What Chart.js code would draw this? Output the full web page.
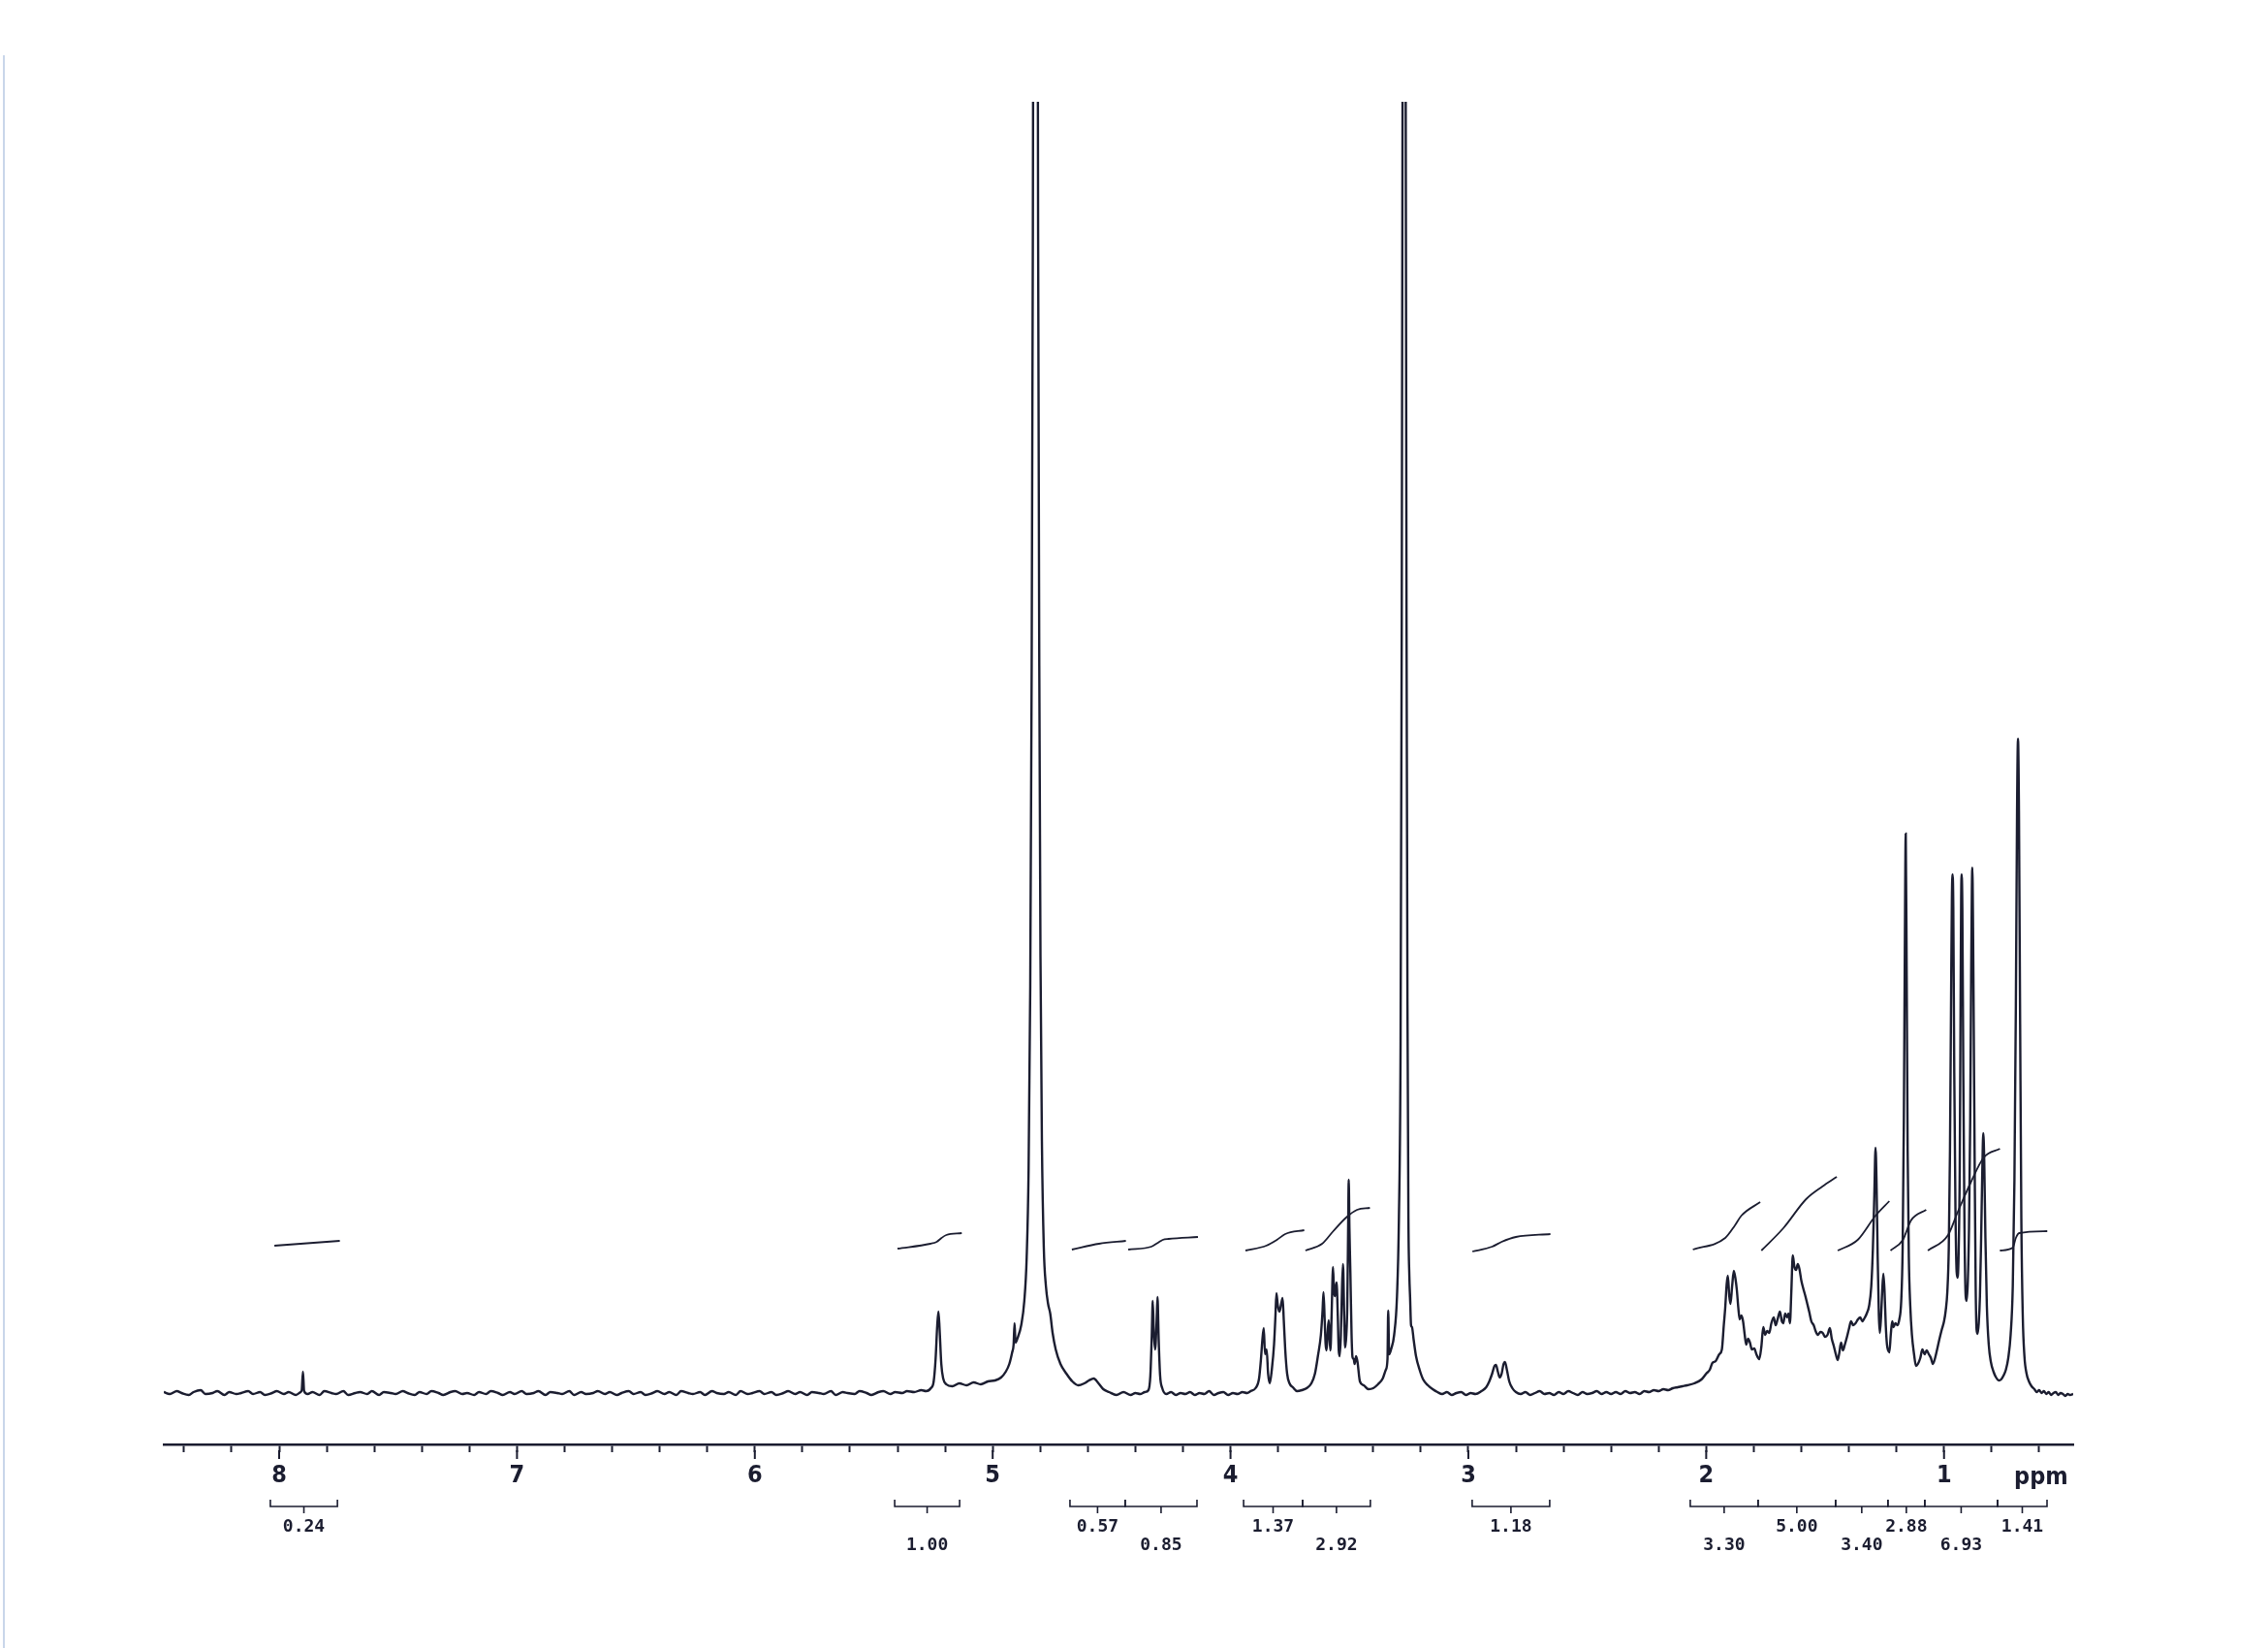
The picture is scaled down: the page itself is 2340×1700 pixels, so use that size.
<!DOCTYPE html>
<html lang="en">
<head>
<meta charset="utf-8">
<title>1H NMR spectrum</title>
<script src="https://cdn.jsdelivr.net/npm/chart.js@4.4.1/dist/chart.umd.min.js"></script>
<style>
    html, body { margin: 0; padding: 0; background: #ffffff; }
    .chart-wrap { position: relative; width: 2340px; height: 1700px; }
</style>
</head>
<body>
<div class="chart-wrap"><canvas id="nmrChart" width="2340" height="1700"></canvas></div>
<script>
'use strict';

// =========================================================
// 1H NMR SPECTRUM
// Values. x = ppm, y = signal
// (plot units above baseline). Tall lines run off the top.
// =========================================================

const INK = '#1b1d30';

// =========================================================
// AXIS
// =========================================================

const AXIS_MAX_PPM = 8.485;
const AXIS_MIN_PPM = 0.457;

const majorTickValues = [8, 7, 6, 5, 4, 3, 2, 1];
const tickLabels = ['8', '7', '6', '5', '4', '3', '2', '1'];
const minorTickStep = 0.2;

const axisUnit = 'ppm';
const axisUnitPpm = 0.592;


// =========================================================
// SPECTRUM TRACE  [ppm, signal]
// =========================================================

const lowFieldTrace = [
    [8.485, 1], [8.46, -1], [8.43, 2], [8.41, 0], [8.38, -2], [8.36, 1], [8.33, 3], [8.31, -1],
    [8.28, 0], [8.26, 2], [8.23, -2], [8.21, 1], [8.18, -1], [8.16, 0], [8.13, 2], [8.11, -1],
    [8.08, 1], [8.06, -2], [8.03, 0], [8.01, 2], [7.98, -1], [7.96, 1], [7.93, -2], [7.91, 1],
    [7.905, 3], [7.900, 22], [7.895, 2], [7.88, -1], [7.86, 1], [7.83, -2], [7.81, 2], [7.78, 0],
    [7.76, -1], [7.73, 2], [7.71, -2], [7.68, 0], [7.66, 1], [7.63, -1], [7.61, 2], [7.58, -2],
    [7.56, 1], [7.53, 0], [7.51, -1], [7.48, 2], [7.46, 0], [7.43, -2], [7.41, 1], [7.38, -1],
    [7.36, 2], [7.33, 0], [7.31, -2], [7.28, 1], [7.26, 2], [7.23, -1], [7.21, 0], [7.18, -2],
    [7.16, 1], [7.13, -1], [7.11, 2], [7.08, 0], [7.06, -2], [7.03, 1], [7.01, -1], [6.98, 2],
    [6.96, -1], [6.93, 0], [6.91, 2], [6.88, -2], [6.86, 1], [6.83, 0], [6.81, -1], [6.78, 2],
    [6.76, -2], [6.73, 1], [6.71, -1], [6.68, 0], [6.66, 2], [6.63, -1], [6.61, 1], [6.58, -2],
    [6.56, 0], [6.53, 2], [6.51, -1], [6.48, 1], [6.46, -2], [6.43, 0], [6.41, 2], [6.38, -1],
    [6.36, 1], [6.33, -2], [6.31, 2], [6.28, 0], [6.26, -1], [6.23, 1], [6.21, -2], [6.18, 2],
    [6.16, 0], [6.13, -1], [6.11, 1], [6.08, -2], [6.06, 2], [6.03, -1], [6.01, 0], [5.98, 2],
    [5.96, -1], [5.93, 1], [5.91, -2], [5.88, 0], [5.86, 2], [5.83, -1], [5.81, 1], [5.78, -2],
    [5.76, 1], [5.73, 0], [5.71, -1], [5.68, 2], [5.66, -2], [5.63, 1], [5.61, 0], [5.58, -1],
    [5.56, 2], [5.53, 0], [5.51, -2], [5.48, 1], [5.46, 2], [5.43, -1], [5.41, 1], [5.38, 0],
    [5.36, 2], [5.33, 1], [5.30, 3],
];

// 5.22 singlet and the big water line at 4.82
const waterRegionTrace = [
    [5.28, 2], [5.26, 5], [5.248, 12], [5.240, 35], [5.233, 70], [5.228, 84], [5.223, 65],
    [5.216, 30], [5.208, 15], [5.195, 9], [5.17, 7], [5.14, 10], [5.11, 8], [5.08, 11],
    [5.05, 9], [5.02, 12], [4.99, 13], [4.965, 16], [4.945, 22], [4.93, 30], [4.918, 42],
    [4.912, 50], [4.908, 72], [4.904, 52], [4.895, 57], [4.88, 70], [4.867, 95], [4.857, 140],
    [4.849, 230], [4.842, 420], [4.836, 750], [4.831, 1200], [4.826, 2000], [4.820, 3000],
    [4.814, 2000], [4.809, 1200], [4.804, 750], [4.799, 450], [4.793, 260], [4.785, 150],
    [4.776, 110], [4.767, 92], [4.758, 82], [4.748, 62], [4.735, 45], [4.715, 30], [4.69, 20],
    [4.665, 12], [4.64, 8], [4.615, 10], [4.595, 13], [4.575, 15], [4.555, 10], [4.535, 4],
    [4.51, 1], [4.48, -2], [4.45, 1],
];

// 4.3 doublet, 3.8 and 3.5 multiplets, solvent at 3.27, 2.87
const midFieldTrace = [
    [4.42, -2], [4.40, 0], [4.38, -1], [4.36, 1], [4.345, 3], [4.337, 18], [4.331, 60],
    [4.327, 95], [4.322, 60], [4.317, 45], [4.311, 72], [4.307, 99], [4.302, 55], [4.296, 18],
    [4.287, 5], [4.27, -1], [4.25, 1], [4.23, -2], [4.21, 0], [4.19, -1], [4.17, 1], [4.15, -2],
    [4.13, 0], [4.11, -1], [4.09, 2], [4.07, -2], [4.05, 0], [4.03, 1], [4.01, -2], [3.99, 0],
    [3.97, -1], [3.95, 1], [3.93, 0], [3.915, 2], [3.895, 5], [3.880, 15],
    [3.872, 35], [3.866, 55], [3.860, 67], [3.855, 40], [3.848, 45], [3.842, 20], [3.835, 10],
    [3.826, 25], [3.817, 50], [3.811, 80], [3.807, 103], [3.801, 90], [3.794, 84], [3.787, 92],
    [3.781, 98], [3.776, 75], [3.770, 45], [3.762, 20], [3.752, 10], [3.738, 6], [3.72, 2],
    [3.70, 3], [3.68, 5], [3.66, 10], [3.645, 20], [3.632, 39], [3.620, 60], [3.613, 85],
    [3.609, 104], [3.604, 75], [3.600, 50], [3.596, 44], [3.591, 65], [3.587, 75], [3.583, 55],
    [3.580, 44], [3.575, 80], [3.569, 130], [3.565, 105], [3.561, 100], [3.557, 110],
    [3.554, 114], [3.549, 80], [3.545, 44], [3.541, 38], [3.536, 60], [3.531, 110], [3.527, 133],
    [3.522, 80], [3.518, 47], [3.513, 60], [3.509, 90], [3.505, 180], [3.503, 220], [3.500, 170],
    [3.496, 124], [3.491, 60], [3.487, 37], [3.482, 35], [3.478, 30], [3.472, 38], [3.466, 32],
    [3.456, 12], [3.44, 8], [3.42, 4], [3.40, 5], [3.38, 9], [3.36, 15], [3.347, 24],
    [3.340, 35], [3.337, 85], [3.333, 40], [3.325, 45], [3.312, 60], [3.300, 100], [3.292, 180],
    [3.285, 360], [3.280, 800], [3.275, 1600], [3.270, 3000], [3.265, 1600], [3.260, 800],
    [3.256, 400], [3.252, 180], [3.248, 120], [3.245, 99], [3.241, 70], [3.237, 68], [3.230, 55],
    [3.22, 38], [3.205, 24], [3.19, 14], [3.17, 8], [3.15, 4], [3.13, 1], [3.11, -1], [3.09, 1],
    [3.07, -2], [3.05, 0], [3.03, 1], [3.01, -2], [2.99, 0], [2.97, -1], [2.945, 2], [2.925, 6],
    [2.912, 12], [2.900, 20], [2.890, 28], [2.884, 29], [2.876, 22], [2.868, 16], [2.860, 20],
    [2.852, 30], [2.846, 32], [2.838, 24], [2.828, 12], [2.815, 5], [2.80, 1], [2.78, -1],
    [2.76, 1], [2.74, -2], [2.72, 0], [2.70, 2], [2.68, -1], [2.66, 0], [2.64, -2], [2.62, 1],
    [2.60, -1], [2.58, 2], [2.56, 0], [2.54, -2], [2.52, 1], [2.50, -1], [2.48, 0], [2.46, 2],
    [2.44, -1], [2.42, 1],
];

// 2.4 - 0.46 ppm: methylene humps and the methyl lines
const aliphaticTrace = [
    [2.40, -1], [2.38, 1], [2.36, -1], [2.34, 2], [2.32, 0], [2.30, 1], [2.28, -1], [2.26, 2],
    [2.24, 1], [2.22, 3], [2.20, 2], [2.18, 4], [2.16, 3], [2.14, 5], [2.12, 6], [2.10, 7],
    [2.08, 8], [2.05, 10], [2.02, 14], [2.00, 20], [1.985, 24],
    [1.974, 31], [1.96, 33], [1.945, 40], [1.934, 45], [1.926, 70], [1.920, 88], [1.914, 112],
    [1.909, 121], [1.903, 100], [1.898, 92], [1.891, 110], [1.884, 126], [1.877, 118],
    [1.871, 106], [1.865, 88], [1.859, 76], [1.852, 80], [1.845, 74], [1.838, 60], [1.832, 50],
    [1.824, 56], [1.816, 52], [1.808, 45], [1.798, 46], [1.789, 40], [1.777, 35], [1.768, 48],
    [1.760, 68], [1.752, 60], [1.744, 64], [1.735, 62], [1.726, 72], [1.716, 78], [1.708, 70],
    [1.700, 76], [1.690, 84], [1.682, 74], [1.676, 72], [1.668, 82], [1.660, 78], [1.654, 82],
    [1.648, 72], [1.642, 105], [1.636, 142], [1.629, 130], [1.622, 127], [1.615, 133],
    [1.608, 128], [1.600, 116], [1.592, 108], [1.583, 100], [1.575, 92], [1.567, 84],
    [1.558, 74], [1.548, 70], [1.540, 64], [1.530, 60], [1.520, 63], [1.510, 62], [1.500, 58],
    [1.490, 60], [1.480, 67], [1.472, 56], [1.463, 48], [1.455, 40], [1.447, 34], [1.440, 42],
    [1.433, 52], [1.425, 44], [1.417, 50], [1.408, 58], [1.400, 66], [1.391, 74], [1.382, 70],
    [1.372, 72], [1.362, 76], [1.352, 78], [1.344, 74], [1.335, 77], [1.325, 82], [1.315, 90],
    [1.306, 110], [1.299, 150], [1.293, 205], [1.288, 253], [1.284, 220], [1.279, 140],
    [1.274, 80], [1.270, 62], [1.265, 78], [1.260, 105], [1.255, 123], [1.250, 104],
    [1.245, 70], [1.240, 50], [1.235, 44], [1.230, 42], [1.224, 60], [1.218, 74], [1.212, 68],
    [1.205, 72], [1.196, 70], [1.188, 76], [1.180, 95], [1.174, 150], [1.169, 280], [1.165, 450],
    [1.161, 577], [1.157, 430], [1.153, 250], [1.148, 140], [1.142, 90], [1.135, 60],
    [1.126, 40], [1.118, 28], [1.110, 30], [1.100, 36], [1.091, 45], [1.082, 40], [1.073, 44],
    [1.064, 40], [1.055, 36], [1.047, 30], [1.040, 34], [1.030, 44], [1.020, 55], [1.010, 65],
    [1.000, 74], [0.993, 85], [0.986, 105], [0.980, 150], [0.975, 250], [0.970, 420],
    [0.967, 510], [0.964, 535], [0.961, 500], [0.957, 330], [0.952, 190], [0.947, 125],
    [0.943, 119], [0.939, 140], [0.934, 230], [0.930, 420], [0.928, 510], [0.926, 535],
    [0.923, 500], [0.919, 330], [0.914, 170], [0.909, 100], [0.905, 95], [0.900, 115],
    [0.895, 170], [0.890, 280], [0.886, 430], [0.883, 520], [0.881, 542], [0.878, 480],
    [0.875, 375], [0.871, 230], [0.867, 110], [0.863, 65], [0.859, 61], [0.854, 72],
    [0.849, 100], [0.844, 160], [0.839, 230], [0.835, 268], [0.831, 240], [0.826, 160],
    [0.820, 90], [0.812, 50], [0.803, 32], [0.792, 22], [0.781, 16], [0.770, 13], [0.760, 14],
    [0.750, 18], [0.740, 24], [0.730, 36], [0.720, 60], [0.711, 110], [0.704, 220],
    [0.698, 400], [0.693, 600], [0.689, 675], [0.685, 600], [0.680, 380], [0.675, 180],
    [0.669, 80], [0.662, 38], [0.653, 20], [0.643, 12], [0.632, 7], [0.620, 4], [0.610, 1],
    [0.60, 3], [0.59, 0], [0.58, 2], [0.57, -1], [0.56, 1], [0.55, -2], [0.54, 0], [0.53, 1],
    [0.52, -2], [0.51, 0], [0.50, -1], [0.49, -3], [0.48, -1], [0.47, -2], [0.457, -1],
];


// =========================================================
// INTEGRAL CURVES  [ppm, level]
// =========================================================

const integralCurves = [
    [[8.02, 152], [7.745, 157]],
    [[5.40, 149], [5.262, 154], [5.235, 156], [5.215, 160], [5.195, 163], [5.13, 165]],
    [[4.667, 148], [4.553, 154], [4.44, 157]],
    [[4.43, 148], [4.333, 151], [4.305, 155], [4.285, 158], [4.26, 159], [4.137, 161]],
    [[3.937, 147], [3.85, 152], [3.805, 158], [3.77, 164], [3.69, 168]],
    [[3.685, 147], [3.615, 154], [3.568, 167], [3.514, 181], [3.468, 189], [3.414, 191]],
    [[2.983, 146], [2.90, 151], [2.86, 156], [2.80, 161], [2.655, 164]],
    [[2.056, 148], [1.920, 160], [1.879, 173], [1.852, 183], [1.773, 197]],
    [[1.768, 147], [1.676, 170], [1.580, 200], [1.512, 213], [1.451, 223]],
    [[1.447, 147], [1.363, 158], [1.288, 183], [1.230, 198]],
    [[1.225, 147], [1.173, 158], [1.139, 178], [1.075, 189]],
    [[1.068, 147], [0.983, 163], [0.942, 187], [0.888, 217], [0.833, 243], [0.765, 252]],
    [[0.765, 147], [0.711, 150], [0.698, 160], [0.684, 165], [0.566, 167]],
];

// integration brackets under the axis
const integralRanges = [
    [8.037, 7.755],
    [5.412, 5.139],
    [4.675, 4.443], [4.443, 4.141],
    [3.945, 3.697], [3.697, 3.412],
    [2.984, 2.658],
    [2.067, 1.782], [1.782, 1.456], [1.456, 1.236], [1.236, 1.081], [1.081, 0.775], [0.775, 0.567],
];
const integralValues = [
    '0.24', '1.00', '0.57', '0.85', '1.37', '2.92', '1.18',
    '3.30', '5.00', '3.40', '2.88', '6.93', '1.41',
];
// 0 = upper row, 1 = lower row
const integralRows = [0, 1, 0, 1, 0, 1, 0, 1, 0, 1, 0, 1, 0];


// =========================================================
// HELPERS
// =========================================================

const toPoints = (pairs) => pairs.map(([ppm, value]) => ({ x: ppm, y: value }));

const buildAxisTicks = () => {
    const values = [];
    const first = Math.ceil(AXIS_MIN_PPM / minorTickStep);
    const last = Math.floor(AXIS_MAX_PPM / minorTickStep);

    for (let step = first; step <= last; step++) {
        values.push(Number((step * minorTickStep).toFixed(1)));
    }

    return values;
};

const axisTickValues = buildAxisTicks();

const labelForTick = (value) => {
    const index = majorTickValues.findIndex((major) => Math.abs(major - value) < 1e-6);
    return index >= 0 ? tickLabels[index] : '';
};


// =========================================================
// PLUGIN: long major ticks, unit, integration brackets
// =========================================================

const nmrExtras = {
    id: 'nmrExtras',

    beforeDraw(chart) {
        // faint scanner edge on the left of the sheet
        const { ctx } = chart;
        ctx.save();
        ctx.strokeStyle = '#c9d6ea';
        ctx.lineWidth = 2;
        ctx.beginPath();
        ctx.moveTo(4, 57);
        ctx.lineTo(4, 1700);
        ctx.stroke();
        ctx.restore();
    },

    afterDraw(chart) {
        const { ctx } = chart;
        const xScale = chart.scales.x;
        const axisY = xScale.top;

        ctx.save();
        ctx.strokeStyle = INK;
        ctx.fillStyle = INK;
        ctx.lineWidth = 2;

        // major ticks are longer than the minor ones
        majorTickValues.forEach((value) => {
            const px = xScale.getPixelForValue(value);
            ctx.beginPath();
            ctx.moveTo(px, axisY + 6);
            ctx.lineTo(px, axisY + 15);
            ctx.stroke();
        });

        ctx.font = "bold 25px 'DejaVu Sans Condensed', 'DejaVu Sans', sans-serif";
        ctx.textAlign = 'center';
        ctx.textBaseline = 'middle';
        ctx.fillText(axisUnit, xScale.getPixelForValue(axisUnitPpm), axisY + 34);

        // integration brackets
        const bracketY = axisY + 64;
        ctx.lineWidth = 1.6;
        ctx.font = "bold 18px 'DejaVu Sans Mono', monospace";

        integralRanges.forEach(([from, to], index) => {
            const left = xScale.getPixelForValue(from);
            const right = xScale.getPixelForValue(to);
            const middle = (left + right) / 2;

            ctx.beginPath();
            ctx.moveTo(left, bracketY - 7);
            ctx.lineTo(left, bracketY);
            ctx.lineTo(right, bracketY);
            ctx.lineTo(right, bracketY - 7);
            ctx.moveTo(middle, bracketY);
            ctx.lineTo(middle, bracketY + 7);
            ctx.stroke();

            const textY = integralRows[index] === 0 ? bracketY + 21 : bracketY + 40;
            ctx.fillText(integralValues[index], middle, textY);
        });

        ctx.restore();
    },
};


// =========================================================
// CHART
// =========================================================

const spectrumTrace = [...lowFieldTrace, ...waterRegionTrace, ...midFieldTrace, ...aliphaticTrace];

const lineStyle = {
    borderColor: INK,
    borderWidth: 2.4,
    pointRadius: 0,
    fill: false,
    cubicInterpolationMode: 'monotone',
};

const datasets = [
    { label: 'spectrum', data: toPoints(spectrumTrace), ...lineStyle },
    ...integralCurves.map((curve, index) => ({
        label: `integral ${index + 1}`,
        data: toPoints(curve),
        ...lineStyle,
        borderWidth: 1.8,
    })),
];

const init = () => {
    const canvas = document.querySelector('#nmrChart');

    new Chart(canvas, {
        type: 'line',
        data: { datasets },
        options: {
            responsive: false,
            devicePixelRatio: 1,
            animation: false,
            layout: {
                padding: { left: 169, right: 201, top: 105, bottom: 150 },
            },
            plugins: {
                legend: { display: false },
                tooltip: { enabled: false },
            },
            scales: {
                x: {
                    type: 'linear',
                    reverse: true,
                    min: AXIS_MIN_PPM,
                    max: AXIS_MAX_PPM,
                    afterBuildTicks: (scale) => {
                        scale.ticks = axisTickValues.map((value) => ({ value }));
                    },
                    afterFit: (scale) => {
                        scale.height = 60;
                    },
                    border: { display: true, color: INK, width: 2.5 },
                    grid: {
                        drawOnChartArea: false,
                        drawTicks: true,
                        tickLength: 8,
                        tickWidth: 2,
                        tickColor: INK,
                        color: INK,
                    },
                    ticks: {
                        autoSkip: false,
                        maxRotation: 0,
                        padding: 9,
                        color: INK,
                        font: {
                            family: "'DejaVu Sans Condensed', 'DejaVu Sans', sans-serif",
                            size: 25,
                            weight: 'bold',
                        },
                        callback: (value) => labelForTick(value),
                    },
                },
                y: {
                    display: false,
                    min: -53,
                    max: 1332,
                },
            },
        },
        plugins: [nmrExtras],
    });
};

document.addEventListener('DOMContentLoaded', init);
</script>
</body>
</html>
